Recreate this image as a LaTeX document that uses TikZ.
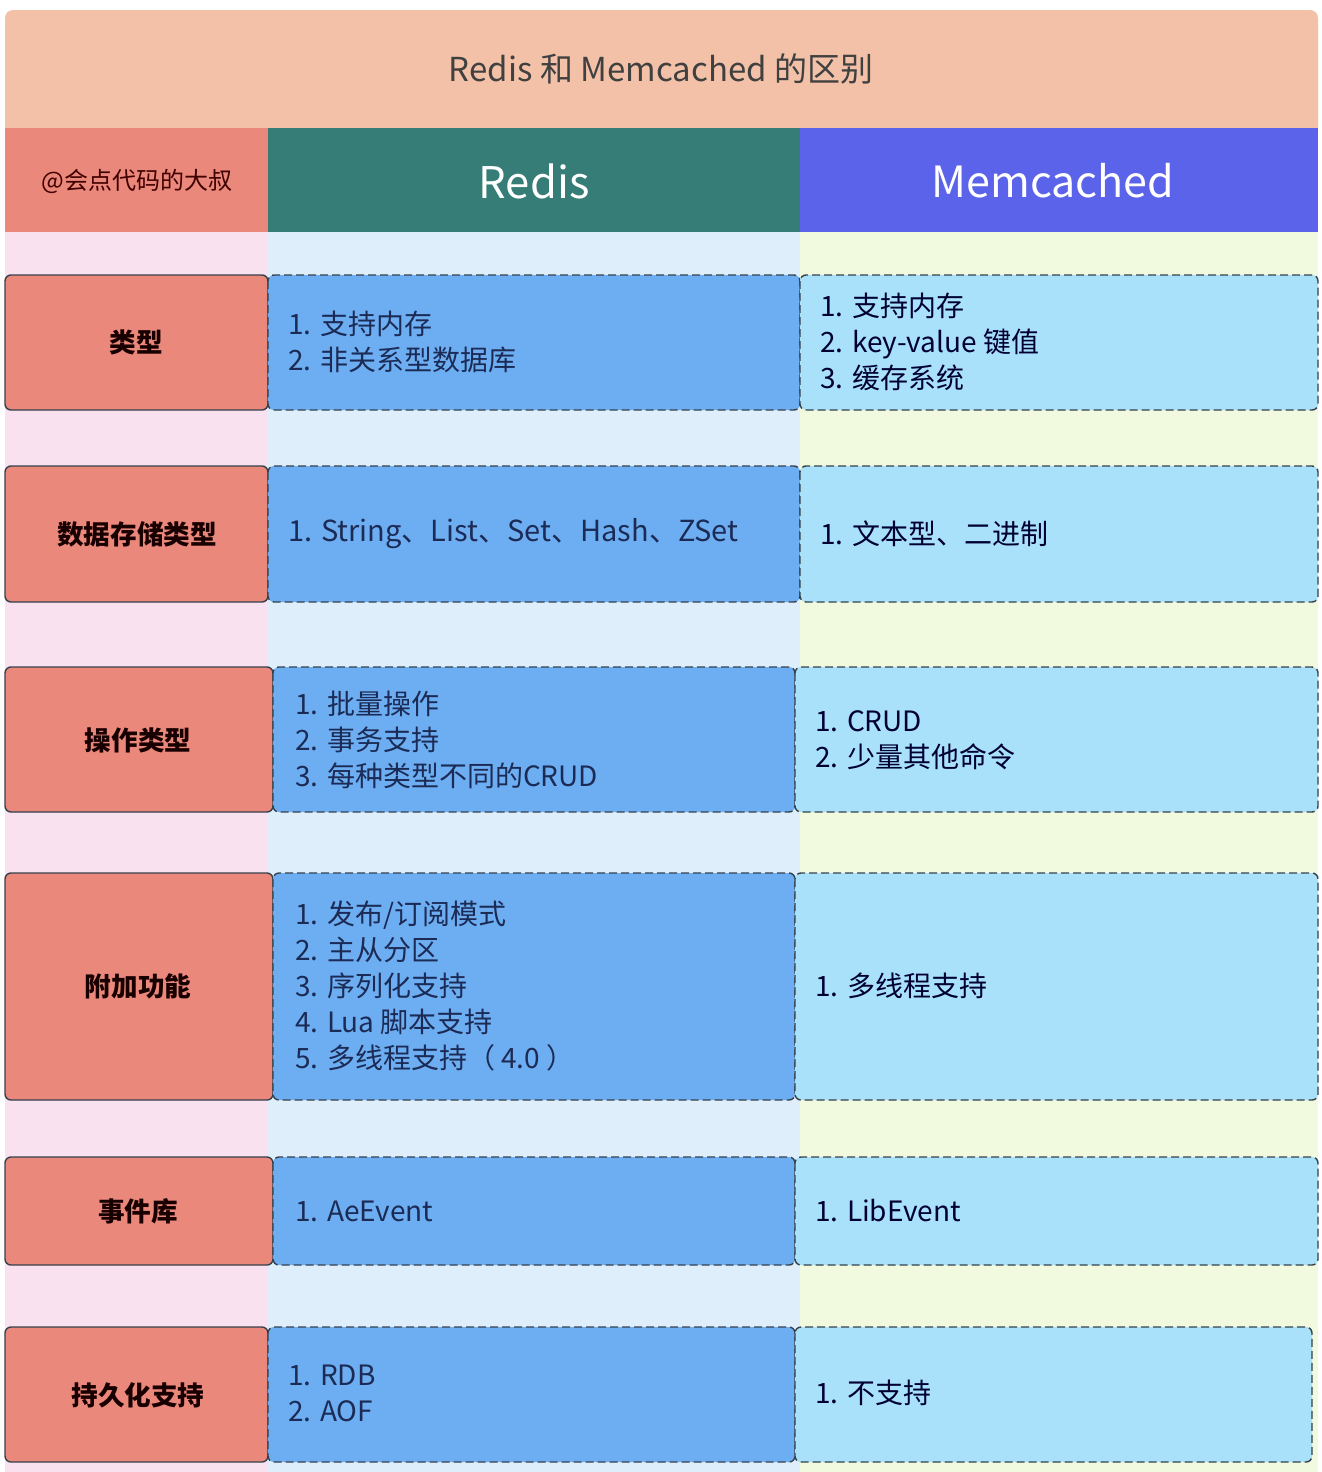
\documentclass[tikz,border=0pt]{standalone}
\usepackage{fontspec}
\setmainfont{Noto Sans CJK SC}
\definecolor{peach}{HTML}{F3C1A7}
\definecolor{salmon}{HTML}{EA887B}
\definecolor{teal2}{HTML}{367D77}
\definecolor{purp}{HTML}{5A63E9}
\definecolor{pinkbg}{HTML}{F9E1EF}
\definecolor{bluebg}{HTML}{DEEEFB}
\definecolor{greenbg}{HTML}{F1FADF}
\definecolor{rcell}{HTML}{6DAEF2}
\definecolor{mcell}{HTML}{A8E1F9}
\definecolor{navy}{HTML}{1C2B55}
\definecolor{bord}{HTML}{36414C}
\begin{document}
\begin{tikzpicture}[x=0.5pt,y=-0.5pt,
  lab/.style={draw=bord,line width=0.7pt,fill=salmon,rounded corners=3pt},
  rbox/.style={draw=bord,line width=0.7pt,dashed,dash pattern=on 4pt off 2pt,fill=rcell,rounded corners=3pt},
  mbox/.style={draw=bord,line width=0.7pt,dashed,dash pattern=on 4pt off 2pt,fill=mcell,rounded corners=3pt},
  labtxt/.style={font=\fontsize{13.3}{18}\selectfont\bfseries,text=black!90!red},
  celltxt/.style={font=\fontsize{14}{18}\selectfont,text=navy,align=left,anchor=west,inner sep=0pt},
  mtxt/.style={font=\fontsize{14}{18}\selectfont,text=black!80!blue,align=left,anchor=west,inner sep=0pt}]
\useasboundingbox (0,0) rectangle (1322,1472);
\fill[white] (0,0) rectangle (1322,1472);
% background stripes
\fill[pinkbg] (5,232) rectangle (268,1472);
\fill[bluebg] (268,232) rectangle (800,1472);
\fill[greenbg] (800,232) rectangle (1318,1472);
% title band
\fill[peach,rounded corners=4pt] (5,10) rectangle (1318,140);
\fill[peach] (5,100) rectangle (1318,128);
\node[font=\fontsize{16.5}{20}\selectfont,text=black!75] (title) at (661,69) {Redis 和 Memcached 的区别};
% header row
\fill[salmon] (5,128) rectangle (268,232);
\fill[teal2] (268,128) rectangle (800,232);
\fill[purp] (800,128) rectangle (1318,232);
\node[font=\fontsize{12}{14}\selectfont,text=black!75!red] (author) at (137,181) {@会点代码的大叔};
\node[font=\fontsize{21.8}{24}\selectfont,text=white] (hr) at (534,181) {Redis};
\node[font=\fontsize{21.5}{24}\selectfont,text=white] (hm) at (1053,181) {Memcached};
% row 1
\draw[lab] (5,275) rectangle (268,410);
\draw[rbox] (268,275) rectangle (800,410);
\draw[mbox] (800,275) rectangle (1318,410);
\node[labtxt] (l1) at (136,342) {类型};
\node[celltxt] (r1) at (288,342) {1. 支持内存\\2. 非关系型数据库};
\node[mtxt] (m1) at (820,342) {1. 支持内存\\2. key-value 键值\\3. 缓存系统};
% row 2
\draw[lab] (5,466) rectangle (268,602);
\draw[rbox] (268,466) rectangle (800,602);
\draw[mbox] (800,466) rectangle (1318,602);
\node[labtxt] (l2) at (137,534) {数据存储类型};
\node[celltxt,font=\fontsize{14.5}{18}\selectfont] (r2) at (288,534) {1. String、List、Set、Hash、ZSet};
\node[mtxt] (m2) at (820,534) {1. 文本型、二进制};
% row 3
\draw[lab] (5,667) rectangle (273,812);
\draw[rbox] (273,667) rectangle (795,812);
\draw[mbox] (795,667) rectangle (1318,812);
\node[labtxt] (l3) at (138,740) {操作类型};
\node[celltxt] (r3) at (295,740) {1. 批量操作\\2. 事务支持\\3. 每种类型不同的CRUD};
\node[mtxt] (m3) at (815,740) {1. CRUD\\2. 少量其他命令};
% row 4
\draw[lab] (5,873) rectangle (273,1100);
\draw[rbox] (273,873) rectangle (795,1100);
\draw[mbox] (795,873) rectangle (1318,1100);
\node[labtxt] (l4) at (138,986) {附加功能};
\node[celltxt] (r4) at (295,986) {1. 发布/订阅模式\\2. 主从分区\\3. 序列化支持\\4. Lua 脚本支持\\5. 多线程支持（ 4.0 ）};
\node[mtxt] (m4) at (815,986) {1. 多线程支持};
% row 5
\draw[lab] (5,1157) rectangle (273,1265);
\draw[rbox] (273,1157) rectangle (795,1265);
\draw[mbox] (795,1157) rectangle (1318,1265);
\node[labtxt] (l5) at (138,1211) {事件库};
\node[celltxt] (r5) at (295,1211) {1. AeEvent};
\node[mtxt] (m5) at (815,1211) {1. LibEvent};
% row 6
\draw[lab] (5,1327) rectangle (268,1462);
\draw[rbox] (268,1327) rectangle (795,1462);
\draw[mbox] (795,1327) rectangle (1312,1462);
\node[labtxt] (l6) at (138,1395) {持久化支持};
\node[celltxt] (r6) at (288,1393) {1. RDB\\2. AOF};
\node[mtxt] (m6) at (815,1393) {1. 不支持};
\end{tikzpicture}
\end{document}
